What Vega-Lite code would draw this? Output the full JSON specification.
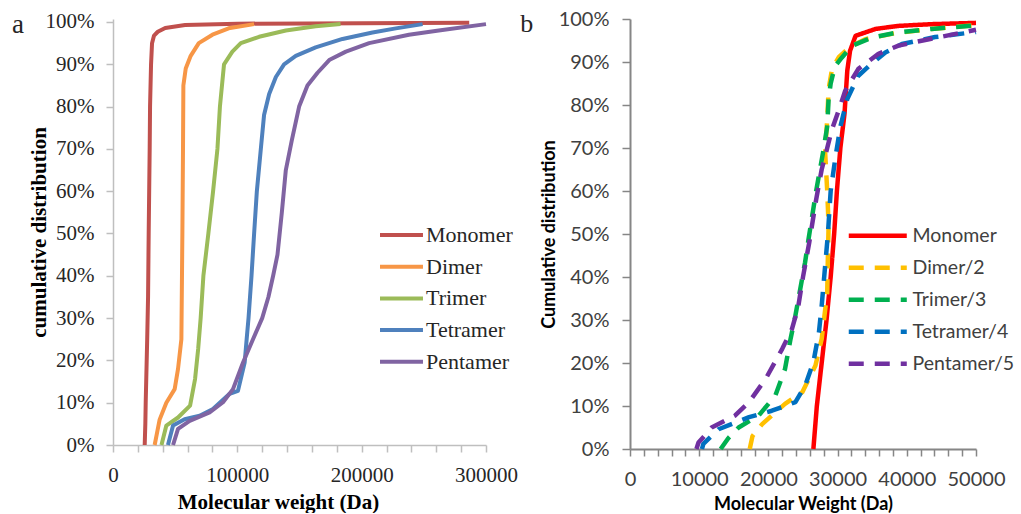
{
  "$schema": "https://vega.github.io/schema/vega-lite/v6.json",
  "background": "white",
  "padding": {"left": 12, "top": 9, "right": 0, "bottom": 0},
  "spacing": 2,
  "config": {"view": {"stroke": null}, "axis": {"grid": false}},
  "resolve": {"scale": {"color": "independent", "strokeDash": "independent"}, "legend": {"color": "independent", "strokeDash": "independent"}},
  "hconcat": [
    {
      "width": 373,
      "height": 426,
      "title": {"text": "a", "anchor": "start", "frame": "bounds", "orient": "top", "font": "Liberation Serif", "fontSize": 27, "fontWeight": "normal", "color": "#262626", "baseline": "alphabetic", "offset": -49, "dx": -16},
      "data": {"values": [
        {"s": "Monomer", "mw": 25500, "p": 0},
        {"s": "Monomer", "mw": 26000, "p": 0.05},
        {"s": "Monomer", "mw": 26300, "p": 0.10},
        {"s": "Monomer", "mw": 27500, "p": 0.25},
        {"s": "Monomer", "mw": 28200, "p": 0.35},
        {"s": "Monomer", "mw": 28700, "p": 0.50},
        {"s": "Monomer", "mw": 29500, "p": 0.70},
        {"s": "Monomer", "mw": 29800, "p": 0.80},
        {"s": "Monomer", "mw": 30600, "p": 0.90},
        {"s": "Monomer", "mw": 31400, "p": 0.95},
        {"s": "Monomer", "mw": 33000, "p": 0.968},
        {"s": "Monomer", "mw": 36000, "p": 0.977},
        {"s": "Monomer", "mw": 42000, "p": 0.986},
        {"s": "Monomer", "mw": 58000, "p": 0.993},
        {"s": "Monomer", "mw": 100000, "p": 0.996},
        {"s": "Monomer", "mw": 286500, "p": 0.998},
        {"s": "Dimer", "mw": 33500, "p": 0},
        {"s": "Dimer", "mw": 35500, "p": 0.03},
        {"s": "Dimer", "mw": 37500, "p": 0.06},
        {"s": "Dimer", "mw": 42900, "p": 0.10},
        {"s": "Dimer", "mw": 49600, "p": 0.132},
        {"s": "Dimer", "mw": 52300, "p": 0.18},
        {"s": "Dimer", "mw": 55000, "p": 0.25},
        {"s": "Dimer", "mw": 55800, "p": 0.50},
        {"s": "Dimer", "mw": 56300, "p": 0.70},
        {"s": "Dimer", "mw": 56600, "p": 0.85},
        {"s": "Dimer", "mw": 58500, "p": 0.89},
        {"s": "Dimer", "mw": 62500, "p": 0.92},
        {"s": "Dimer", "mw": 69000, "p": 0.95},
        {"s": "Dimer", "mw": 80000, "p": 0.97},
        {"s": "Dimer", "mw": 93000, "p": 0.985},
        {"s": "Dimer", "mw": 113500, "p": 0.995},
        {"s": "Trimer", "mw": 39000, "p": 0},
        {"s": "Trimer", "mw": 42900, "p": 0.046},
        {"s": "Trimer", "mw": 52300, "p": 0.065},
        {"s": "Trimer", "mw": 62000, "p": 0.093},
        {"s": "Trimer", "mw": 66000, "p": 0.156},
        {"s": "Trimer", "mw": 68500, "p": 0.227},
        {"s": "Trimer", "mw": 70500, "p": 0.30},
        {"s": "Trimer", "mw": 72700, "p": 0.40},
        {"s": "Trimer", "mw": 76700, "p": 0.50},
        {"s": "Trimer", "mw": 80500, "p": 0.60},
        {"s": "Trimer", "mw": 84000, "p": 0.70},
        {"s": "Trimer", "mw": 86000, "p": 0.80},
        {"s": "Trimer", "mw": 89300, "p": 0.90},
        {"s": "Trimer", "mw": 96000, "p": 0.93},
        {"s": "Trimer", "mw": 102800, "p": 0.95},
        {"s": "Trimer", "mw": 117500, "p": 0.965},
        {"s": "Trimer", "mw": 139000, "p": 0.98},
        {"s": "Trimer", "mw": 163000, "p": 0.99},
        {"s": "Trimer", "mw": 183000, "p": 0.995},
        {"s": "Tetramer", "mw": 44200, "p": 0},
        {"s": "Tetramer", "mw": 48300, "p": 0.046},
        {"s": "Tetramer", "mw": 57600, "p": 0.061},
        {"s": "Tetramer", "mw": 69700, "p": 0.069},
        {"s": "Tetramer", "mw": 80400, "p": 0.085},
        {"s": "Tetramer", "mw": 93800, "p": 0.121},
        {"s": "Tetramer", "mw": 100500, "p": 0.128},
        {"s": "Tetramer", "mw": 105900, "p": 0.195},
        {"s": "Tetramer", "mw": 107500, "p": 0.25},
        {"s": "Tetramer", "mw": 109000, "p": 0.30},
        {"s": "Tetramer", "mw": 111400, "p": 0.40},
        {"s": "Tetramer", "mw": 113500, "p": 0.50},
        {"s": "Tetramer", "mw": 115700, "p": 0.60},
        {"s": "Tetramer", "mw": 118900, "p": 0.70},
        {"s": "Tetramer", "mw": 121500, "p": 0.78},
        {"s": "Tetramer", "mw": 125600, "p": 0.83},
        {"s": "Tetramer", "mw": 131000, "p": 0.87},
        {"s": "Tetramer", "mw": 137600, "p": 0.90},
        {"s": "Tetramer", "mw": 147000, "p": 0.92},
        {"s": "Tetramer", "mw": 163000, "p": 0.94},
        {"s": "Tetramer", "mw": 184600, "p": 0.96},
        {"s": "Tetramer", "mw": 208700, "p": 0.975},
        {"s": "Tetramer", "mw": 227500, "p": 0.985},
        {"s": "Tetramer", "mw": 249000, "p": 0.995},
        {"s": "Pentamer", "mw": 48300, "p": 0},
        {"s": "Pentamer", "mw": 52300, "p": 0.038},
        {"s": "Pentamer", "mw": 61700, "p": 0.057},
        {"s": "Pentamer", "mw": 77700, "p": 0.077},
        {"s": "Pentamer", "mw": 88500, "p": 0.101},
        {"s": "Pentamer", "mw": 96500, "p": 0.132},
        {"s": "Pentamer", "mw": 104600, "p": 0.195},
        {"s": "Pentamer", "mw": 112600, "p": 0.25},
        {"s": "Pentamer", "mw": 120000, "p": 0.30},
        {"s": "Pentamer", "mw": 125000, "p": 0.35},
        {"s": "Pentamer", "mw": 128800, "p": 0.40},
        {"s": "Pentamer", "mw": 132300, "p": 0.45},
        {"s": "Pentamer", "mw": 135800, "p": 0.55},
        {"s": "Pentamer", "mw": 139000, "p": 0.65},
        {"s": "Pentamer", "mw": 143800, "p": 0.72},
        {"s": "Pentamer", "mw": 149700, "p": 0.80},
        {"s": "Pentamer", "mw": 156400, "p": 0.85},
        {"s": "Pentamer", "mw": 164500, "p": 0.88},
        {"s": "Pentamer", "mw": 173900, "p": 0.91},
        {"s": "Pentamer", "mw": 187300, "p": 0.93},
        {"s": "Pentamer", "mw": 206000, "p": 0.95},
        {"s": "Pentamer", "mw": 238000, "p": 0.97},
        {"s": "Pentamer", "mw": 262000, "p": 0.98},
        {"s": "Pentamer", "mw": 300000, "p": 0.995}
      ]},
      "mark": {"type": "line", "strokeWidth": 4, "interpolate": "linear", "strokeJoin": "round"},
      "encoding": {
        "x": {
          "field": "mw", "type": "quantitative",
          "scale": {"domain": [0, 300000], "nice": false, "zero": false},
          "axis": {
            "values": [0, 20000, 40000, 60000, 80000, 100000, 120000, 140000, 160000, 180000, 200000, 220000, 240000, 260000, 280000, 300000],
            "labelExpr": "datum.value % 100000 === 0 ? format(datum.value, 'd') : ''",
            "labelFlush": false, "labelOverlap": false,
            "labelFont": "Liberation Serif", "labelFontSize": 21, "labelColor": "#262626", "labelPadding": 12,
            "tickSize": 7, "tickColor": "#BFBFBF", "domainColor": "#BFBFBF", "domainWidth": 1.5, "tickWidth": 1.5,
            "title": "Molecular weight (Da)", "titleFont": "Liberation Serif", "titleFontSize": 21, "titleFontWeight": "bold", "titleColor": "#000000", "titlePadding": 6, "titleX": 165
          }
        },
        "y": {
          "field": "p", "type": "quantitative",
          "scale": {"domain": [0, 1.00709], "nice": false},
          "axis": {
            "values": [0, 0.1, 0.2, 0.3, 0.4, 0.5, 0.6, 0.7, 0.8, 0.9, 1],
            "format": ".0%",
            "labelFont": "Liberation Serif", "labelFontSize": 21, "labelColor": "#262626", "labelPadding": 12,
            "tickSize": 7, "tickColor": "#BFBFBF", "domainColor": "#BFBFBF", "domainWidth": 1.5, "tickWidth": 1.5,
            "title": "cumulative distribution", "titleFont": "Liberation Serif", "titleFontSize": 21, "titleFontWeight": "bold", "titleColor": "#000000", "titlePadding": 0, "titleBaseline": "alphabetic"
          }
        },
        "color": {
          "field": "s", "type": "nominal",
          "scale": {"domain": ["Monomer", "Dimer", "Trimer", "Tetramer", "Pentamer"], "range": ["#C0504D", "#F79646", "#9BBB59", "#4F81BD", "#8064A2"]},
          "legend": {
            "title": null, "orient": "none", "legendX": 263, "legendY": 205, "padding": 0,
            "symbolType": "M-1,0H5.14", "symbolSize": 196, "symbolStrokeWidth": 4, "labelOffset": 28,
            "labelFont": "Liberation Serif", "labelFontSize": 22, "labelColor": "#262626", "rowPadding": 9.7
          }
        },
        "order": {"field": "p", "type": "quantitative"}
      }
    },
    {
      "width": 346,
      "height": 430,
      "title": {"text": "b", "anchor": "start", "frame": "bounds", "orient": "top", "font": "Liberation Serif", "fontSize": 26, "fontWeight": "normal", "color": "#262626", "baseline": "alphabetic", "offset": -49, "dx": -20},
      "data": {"values": [
        {"s": "Monomer", "mw": 26500, "p": 0},
        {"s": "Monomer", "mw": 27000, "p": 0.10},
        {"s": "Monomer", "mw": 27700, "p": 0.20},
        {"s": "Monomer", "mw": 28400, "p": 0.30},
        {"s": "Monomer", "mw": 29000, "p": 0.40},
        {"s": "Monomer", "mw": 29500, "p": 0.50},
        {"s": "Monomer", "mw": 29900, "p": 0.60},
        {"s": "Monomer", "mw": 30400, "p": 0.70},
        {"s": "Monomer", "mw": 31000, "p": 0.78},
        {"s": "Monomer", "mw": 31400, "p": 0.88},
        {"s": "Monomer", "mw": 31800, "p": 0.926},
        {"s": "Monomer", "mw": 32600, "p": 0.961},
        {"s": "Monomer", "mw": 35500, "p": 0.977},
        {"s": "Monomer", "mw": 38800, "p": 0.984},
        {"s": "Monomer", "mw": 43600, "p": 0.988},
        {"s": "Monomer", "mw": 50000, "p": 0.991},
        {"s": "Dimer/2", "mw": 17300, "p": 0},
        {"s": "Dimer/2", "mw": 17700, "p": 0.03},
        {"s": "Dimer/2", "mw": 19100, "p": 0.058},
        {"s": "Dimer/2", "mw": 22400, "p": 0.105},
        {"s": "Dimer/2", "mw": 24900, "p": 0.132},
        {"s": "Dimer/2", "mw": 26800, "p": 0.194},
        {"s": "Dimer/2", "mw": 27700, "p": 0.256},
        {"s": "Dimer/2", "mw": 28500, "p": 0.364},
        {"s": "Dimer/2", "mw": 28600, "p": 0.45},
        {"s": "Dimer/2", "mw": 28700, "p": 0.52},
        {"s": "Dimer/2", "mw": 28500, "p": 0.60},
        {"s": "Dimer/2", "mw": 28200, "p": 0.69},
        {"s": "Dimer/2", "mw": 28500, "p": 0.767},
        {"s": "Dimer/2", "mw": 28700, "p": 0.837},
        {"s": "Dimer/2", "mw": 29200, "p": 0.884},
        {"s": "Dimer/2", "mw": 30200, "p": 0.912},
        {"s": "Dimer/2", "mw": 31800, "p": 0.935},
        {"s": "Dimer/2", "mw": 34000, "p": 0.953},
        {"s": "Dimer/2", "mw": 38000, "p": 0.966},
        {"s": "Dimer/2", "mw": 43500, "p": 0.977},
        {"s": "Dimer/2", "mw": 50000, "p": 0.986},
        {"s": "Trimer/3", "mw": 13100, "p": 0},
        {"s": "Trimer/3", "mw": 14200, "p": 0.025},
        {"s": "Trimer/3", "mw": 15700, "p": 0.05},
        {"s": "Trimer/3", "mw": 18600, "p": 0.078},
        {"s": "Trimer/3", "mw": 21000, "p": 0.124},
        {"s": "Trimer/3", "mw": 22400, "p": 0.186},
        {"s": "Trimer/3", "mw": 23200, "p": 0.256},
        {"s": "Trimer/3", "mw": 23900, "p": 0.31},
        {"s": "Trimer/3", "mw": 24600, "p": 0.372},
        {"s": "Trimer/3", "mw": 25300, "p": 0.434},
        {"s": "Trimer/3", "mw": 25800, "p": 0.488},
        {"s": "Trimer/3", "mw": 26900, "p": 0.60},
        {"s": "Trimer/3", "mw": 27900, "p": 0.69},
        {"s": "Trimer/3", "mw": 28500, "p": 0.75},
        {"s": "Trimer/3", "mw": 28700, "p": 0.814},
        {"s": "Trimer/3", "mw": 29000, "p": 0.85},
        {"s": "Trimer/3", "mw": 29600, "p": 0.89},
        {"s": "Trimer/3", "mw": 30600, "p": 0.91},
        {"s": "Trimer/3", "mw": 32100, "p": 0.938},
        {"s": "Trimer/3", "mw": 35000, "p": 0.957},
        {"s": "Trimer/3", "mw": 38800, "p": 0.969},
        {"s": "Trimer/3", "mw": 43600, "p": 0.977},
        {"s": "Trimer/3", "mw": 50000, "p": 0.985},
        {"s": "Tetramer/4", "mw": 10400, "p": 0},
        {"s": "Tetramer/4", "mw": 10600, "p": 0.012},
        {"s": "Tetramer/4", "mw": 12800, "p": 0.046},
        {"s": "Tetramer/4", "mw": 17200, "p": 0.074},
        {"s": "Tetramer/4", "mw": 20500, "p": 0.089},
        {"s": "Tetramer/4", "mw": 23900, "p": 0.109},
        {"s": "Tetramer/4", "mw": 25300, "p": 0.147},
        {"s": "Tetramer/4", "mw": 26500, "p": 0.202},
        {"s": "Tetramer/4", "mw": 27300, "p": 0.271},
        {"s": "Tetramer/4", "mw": 27700, "p": 0.333},
        {"s": "Tetramer/4", "mw": 28200, "p": 0.426},
        {"s": "Tetramer/4", "mw": 28600, "p": 0.50},
        {"s": "Tetramer/4", "mw": 29000, "p": 0.60},
        {"s": "Tetramer/4", "mw": 29700, "p": 0.68},
        {"s": "Tetramer/4", "mw": 30400, "p": 0.75},
        {"s": "Tetramer/4", "mw": 31400, "p": 0.814},
        {"s": "Tetramer/4", "mw": 33000, "p": 0.868},
        {"s": "Tetramer/4", "mw": 34500, "p": 0.89},
        {"s": "Tetramer/4", "mw": 36900, "p": 0.922},
        {"s": "Tetramer/4", "mw": 39300, "p": 0.942},
        {"s": "Tetramer/4", "mw": 44100, "p": 0.958},
        {"s": "Tetramer/4", "mw": 50000, "p": 0.97},
        {"s": "Pentamer/5", "mw": 9600, "p": 0},
        {"s": "Pentamer/5", "mw": 9900, "p": 0.015},
        {"s": "Pentamer/5", "mw": 11000, "p": 0.035},
        {"s": "Pentamer/5", "mw": 11800, "p": 0.05},
        {"s": "Pentamer/5", "mw": 15200, "p": 0.078},
        {"s": "Pentamer/5", "mw": 17200, "p": 0.109},
        {"s": "Pentamer/5", "mw": 19600, "p": 0.163},
        {"s": "Pentamer/5", "mw": 22000, "p": 0.233},
        {"s": "Pentamer/5", "mw": 23400, "p": 0.279},
        {"s": "Pentamer/5", "mw": 24300, "p": 0.33},
        {"s": "Pentamer/5", "mw": 25000, "p": 0.40},
        {"s": "Pentamer/5", "mw": 25900, "p": 0.48},
        {"s": "Pentamer/5", "mw": 26900, "p": 0.58},
        {"s": "Pentamer/5", "mw": 27700, "p": 0.65},
        {"s": "Pentamer/5", "mw": 28500, "p": 0.70},
        {"s": "Pentamer/5", "mw": 29200, "p": 0.744},
        {"s": "Pentamer/5", "mw": 30000, "p": 0.78},
        {"s": "Pentamer/5", "mw": 31100, "p": 0.833},
        {"s": "Pentamer/5", "mw": 33000, "p": 0.884},
        {"s": "Pentamer/5", "mw": 35900, "p": 0.919},
        {"s": "Pentamer/5", "mw": 38800, "p": 0.938},
        {"s": "Pentamer/5", "mw": 43200, "p": 0.953},
        {"s": "Pentamer/5", "mw": 50000, "p": 0.975}
      ]},
      "mark": {"type": "line", "strokeWidth": 4.5, "interpolate": "linear", "strokeJoin": "round"},
      "encoding": {
        "x": {
          "field": "mw", "type": "quantitative",
          "scale": {"domain": [0, 50000], "nice": false, "zero": false},
          "axis": {
            "values": [0, 2000, 4000, 6000, 8000, 10000, 12000, 14000, 16000, 18000, 20000, 22000, 24000, 26000, 28000, 30000, 32000, 34000, 36000, 38000, 40000, 42000, 44000, 46000, 48000, 50000],
            "labelExpr": "datum.value % 10000 === 0 ? format(datum.value, 'd') : ''",
            "labelFlush": false, "labelOverlap": false,
            "labelFont": "Lato", "labelFontSize": 20, "labelColor": "#404040", "labelPadding": 13,
            "tickSize": 7, "tickColor": "#868686", "domainColor": "#868686", "domainWidth": 2, "tickWidth": 1.5,
            "title": "Molecular Weight (Da)", "titleFont": "Lato", "titleFontSize": 18, "titleFontWeight": "bold", "titleColor": "#000000", "titlePadding": 6
          }
        },
        "y": {
          "field": "p", "type": "quantitative",
          "scale": {"domain": [0, 1], "nice": false},
          "axis": {
            "values": [0, 0.1, 0.2, 0.3, 0.4, 0.5, 0.6, 0.7, 0.8, 0.9, 1],
            "format": ".0%",
            "labelFont": "Lato", "labelFontSize": 20, "labelColor": "#404040", "labelPadding": 13,
            "tickSize": 8, "tickColor": "#868686", "domainColor": "#868686", "domainWidth": 2, "tickWidth": 1.5,
            "title": "Cumulative distribution", "titleFont": "Lato", "titleFontSize": 18, "titleFontWeight": "bold", "titleColor": "#000000", "titlePadding": 4, "titleBaseline": "alphabetic"
          }
        },
        "color": {
          "field": "s", "type": "nominal",
          "scale": {"domain": ["Monomer", "Dimer/2", "Trimer/3", "Tetramer/4", "Pentamer/5"], "range": ["#FF0000", "#FFC000", "#00B050", "#0070C0", "#7030A0"]},
          "legend": {
            "title": null, "orient": "none", "legendX": 216, "legendY": 207, "padding": 0,
            "symbolType": "M-1,0H7.29", "symbolSize": 196, "symbolStrokeWidth": 4.5, "labelOffset": 47,
            "labelFont": "Lato", "labelFontSize": 19.5, "labelColor": "#404040", "rowPadding": 11
          }
        },
        "strokeDash": {
          "field": "s", "type": "nominal",
          "scale": {"domain": ["Monomer", "Dimer/2", "Trimer/3", "Tetramer/4", "Pentamer/5"], "range": [[1, 0], [15, 11], [15, 11], [15, 11], [15, 11]]},
          "legend": {
            "title": null, "orient": "none", "legendX": 216, "legendY": 207, "padding": 0,
            "symbolType": "M-1,0H7.29", "symbolSize": 196, "symbolStrokeWidth": 4.5, "labelOffset": 47,
            "labelFont": "Lato", "labelFontSize": 19.5, "labelColor": "#404040", "rowPadding": 11
          }
        },
        "order": {"field": "p", "type": "quantitative"}
      }
    }
  ]
}
